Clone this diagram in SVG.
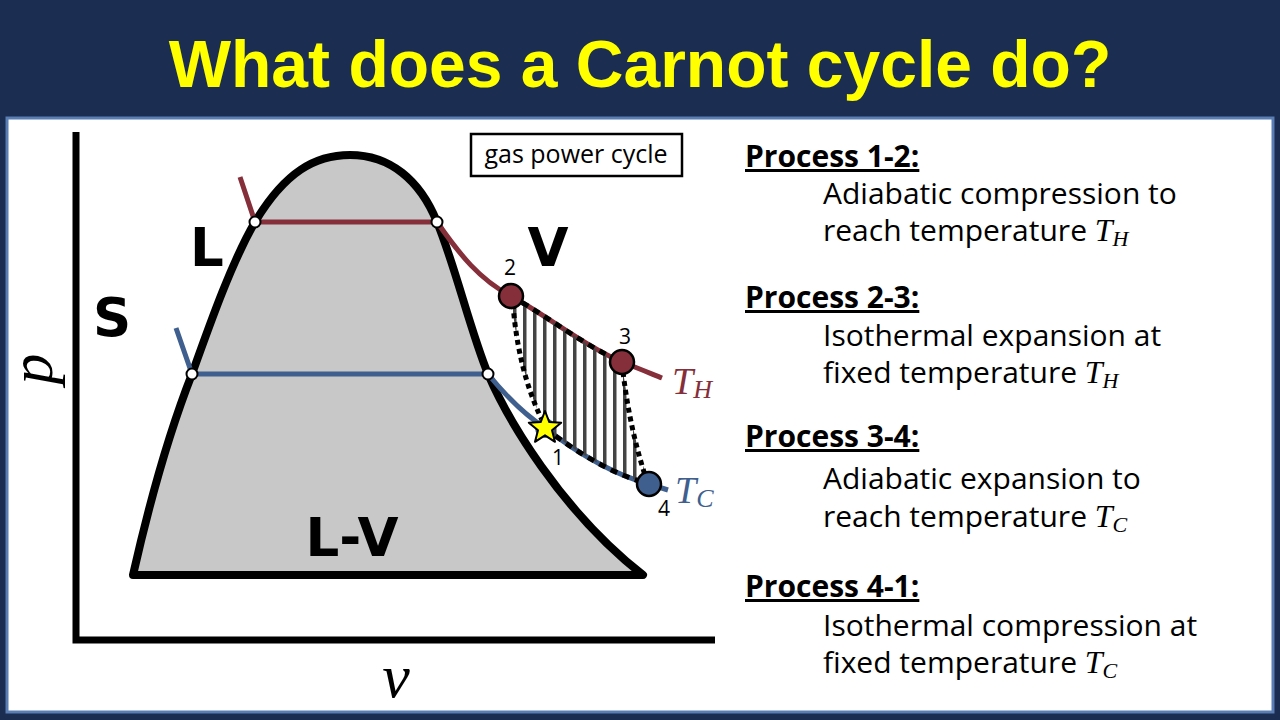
<svg xmlns="http://www.w3.org/2000/svg" width="1280" height="720" viewBox="0 0 1280 720">
<defs>
<style>
.title{font-family:"Liberation Sans",Arial,sans-serif;font-weight:bold;font-size:66px;fill:#ffff00}
.region{font-family:"DejaVu Sans",sans-serif;font-weight:bold;font-size:53px;fill:#000}
.num{font-family:"Open Sans","DejaVu Sans",sans-serif;font-size:21px;fill:#000}
.math{font-family:"Liberation Serif",serif;font-style:italic}
.head{font-family:"Open Sans","DejaVu Sans",sans-serif;font-weight:bold;font-size:30px;fill:#000;text-decoration:underline}
.body{font-family:"Open Sans","DejaVu Sans",sans-serif;font-size:30px;fill:#000}
.red{stroke:#852f3a;fill:none;stroke-width:5}
.blue{stroke:#3f5f8e;fill:none;stroke-width:5}
.dash{stroke:#000;fill:none;stroke-width:5;stroke-dasharray:7 6}
.dot{stroke:#000;fill:none;stroke-width:5;stroke-dasharray:5 4}
.sat{fill:#fff;stroke:#000;stroke-width:2}
</style>
<pattern id="hatch" patternUnits="userSpaceOnUse" x="0" y="0" width="10" height="10">
<rect x="3" y="0" width="3.5" height="10" fill="#444444"/>
</pattern>
<clipPath id="cycleClip">
<path d="M511,296 C550,318 585,346 622,362 Q630,430 649,484 C615,475 580,455 545,428 Q518,370 511,296 Z"/>
</clipPath>
</defs>

<rect x="0" y="0" width="1280" height="720" fill="#1b2d50"/>
<rect x="7" y="118" width="1266" height="594" fill="#ffffff" stroke="#5a7db3" stroke-width="3"/>

<text class="title" x="640" y="87" text-anchor="middle">What does a Carnot cycle do?</text>

<g id="axes">
<path d="M76,132 L76,640 L715,640" fill="none" stroke="#000" stroke-width="7"/>
<text class="math" font-size="62" transform="translate(52,369) rotate(-90)" text-anchor="middle">p</text>
<text class="math" font-size="62" x="396" y="697" text-anchor="middle">v</text>
</g>

<g id="dome">
<path d="M133,575 C150,500 170,430 192,374 C212,318 232,262 255,222 C285,172 315,155 350,155 C390,155 420,180 437,222 C455,265 470,330 488,374 C507,418 560,510 643,575 Z" fill="#c8c8c8" stroke="#000" stroke-width="8" stroke-linejoin="round"/>
</g>

<g id="regions">
<text class="region" x="207" y="266" text-anchor="middle">L</text>
<text class="region" x="112" y="336" text-anchor="middle">S</text>
<text class="region" x="548" y="266" text-anchor="middle">V</text>
<text class="region" x="352" y="556" text-anchor="middle">L-V</text>
</g>

<g id="label-box">
<rect x="471" y="134" width="211" height="42" fill="#fff" stroke="#000" stroke-width="2.5"/>
<text x="576" y="163" text-anchor="middle" font-family="Open Sans, DejaVu Sans, sans-serif" font-size="25">gas power cycle</text>
</g>

<g id="connectors">
<path class="red" d="M240,177 L255,222 L437,222 C460,255 480,280 511,296 C550,318 585,346 622,362 C640,369 652,374 662,378"/>
<path class="blue" d="M176,328 L192,374 L488,374 C505,395 525,415 545,428 C580,455 615,475 649,484 L668,490"/>
<rect x="505" y="290" width="150" height="200" fill="url(#hatch)" clip-path="url(#cycleClip)"/>
<path class="dot" d="M513,304 Q518,370 542,420"/>
<path class="dot" d="M623,372 Q630,430 646,478"/>
<path class="dash" d="M511,296 C550,318 585,346 622,362"/>
<path class="dash" d="M545,428 C580,455 615,475 649,484"/>
</g>

<g id="sat-points">
<circle class="sat" cx="255" cy="222" r="5.5"/>
<circle class="sat" cx="437" cy="222" r="5.5"/>
<circle class="sat" cx="192" cy="374" r="5.5"/>
<circle class="sat" cx="488" cy="374" r="5.5"/>
</g>

<g id="state-2">
<circle cx="511" cy="296" r="12" fill="#852f3a" stroke="#000" stroke-width="2.5"/>
<text class="num" x="510" y="275" text-anchor="middle">2</text>
</g>
<g id="state-3">
<circle cx="622" cy="362" r="12" fill="#852f3a" stroke="#000" stroke-width="2.5"/>
<text class="num" x="625" y="344" text-anchor="middle">3</text>
</g>
<g id="state-4">
<circle cx="649" cy="484" r="12" fill="#3f5f8e" stroke="#000" stroke-width="2.5"/>
<text class="num" x="664" y="516" text-anchor="middle">4</text>
</g>
<g id="state-1">
<circle cx="545" cy="428" r="10" fill="#3f5f8e"/>
<polygon points="545,411 549.3,422.1 561.2,422.7 552,430.3 555,441.8 545,435.3 535,441.8 538,430.3 528.8,422.7 540.7,422.1" fill="#ffff00" stroke="#000" stroke-width="2" stroke-linejoin="round"/>
<text class="num" x="558" y="465" text-anchor="middle">1</text>
</g>

<g id="temps">
<text class="math" x="672" y="394" font-size="38" fill="#852f3a">T<tspan font-size="26" dy="4">H</tspan></text>
<text class="math" x="675" y="503" font-size="38" fill="#3f5f8e">T<tspan font-size="26" dy="4">C</tspan></text>
</g>

<g id="processes">
<text class="head" x="745" y="167">Process 1-2:</text>
<text class="body" x="823" y="204">Adiabatic compression to</text>
<text class="body" x="823" y="241">reach temperature <tspan class="math" font-size="32">T</tspan><tspan class="math" font-size="22" dy="5">H</tspan></text>
<text class="head" x="745" y="308">Process 2-3:</text>
<text class="body" x="823" y="346">Isothermal expansion at</text>
<text class="body" x="823" y="383">fixed temperature <tspan class="math" font-size="32">T</tspan><tspan class="math" font-size="22" dy="5">H</tspan></text>
<text class="head" x="745" y="447">Process 3-4:</text>
<text class="body" x="823" y="489">Adiabatic expansion to</text>
<text class="body" x="823" y="527">reach temperature <tspan class="math" font-size="32">T</tspan><tspan class="math" font-size="22" dy="5">C</tspan></text>
<text class="head" x="745" y="597">Process 4-1:</text>
<text class="body" x="823" y="636">Isothermal compression at</text>
<text class="body" x="823" y="673">fixed temperature <tspan class="math" font-size="32">T</tspan><tspan class="math" font-size="22" dy="5">C</tspan></text>
</g>
</svg>
